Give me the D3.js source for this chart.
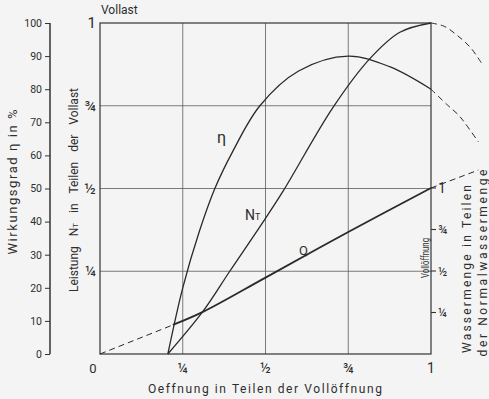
<!DOCTYPE html>
<html>
<head>
<meta charset="utf-8">
<script src="https://cdn.jsdelivr.net/npm/d3@7"></script>
<style>
  body { margin: 0; background: #f4f4f4; }
  svg { display: block; }
  text { font-family: Roboto, "Liberation Sans", sans-serif; fill: #2e2e2e; }
</style>
</head>
<body>
<div id="chart-area"></div>
<script>
// opening (share of full opening) vs efficiency, power and water flow

var fracTicks = [0.25, 0.5, 0.75, 1];
var fracLabels = ["¼", "½", "¾", "1"];
var etaTicks = [0, 10, 20, 30, 40, 50, 60, 70, 80, 90, 100];

// efficiency eta in %
var etaX = [0.205, 0.25, 0.30, 0.347, 0.40, 0.483, 0.6, 0.75, 0.875, 1.0];
var etaY = [0, 20, 37, 50, 61, 75, 85.5, 90, 86.8, 80];
var etaDashX = [1.0, 1.05, 1.083, 1.103, 1.143];
var etaDashY = [80, 75.2, 72.2, 69.7, 64.1];

// power N_T in parts of full load
var ntX = [0.205, 0.312, 0.392, 0.5, 0.555, 0.704, 0.816, 0.906, 1.0];
var ntY = [0, 0.13, 0.25, 0.41, 0.495, 0.745, 0.893, 0.972, 1.0];
var ntDashX = [1.0, 1.04, 1.08, 1.12, 1.153];
var ntDashY = [1.0, 0.99, 0.962, 0.925, 0.878];

// water flow Q in parts of normal flow
var qX = [0.22, 0.3125, 0.5, 0.75, 1.0];
var qY = [0.175, 0.255, 0.46, 0.735, 1.0];
var qDashStartX = [0, 0.22];
var qDashStartY = [0, 0.175];
var qDashEndX = [1.0, 1.143];
var qDashEndY = [1.0, 1.108];

var width = 489;
var height = 399;

var svg = d3.select("#chart-area")
  .append("svg")
  .attr("width", width)
  .attr("height", height);

svg.append("rect").attr("width", width).attr("height", height).attr("fill", "#f4f4f4");

var x = d3.scaleLinear().domain([0, 1]).range([100, 431]);
var y = d3.scaleLinear().domain([0, 1]).range([354, 23]);
var yEta = d3.scaleLinear().domain([0, 100]).range([354, 23]);
var yQ = d3.scaleLinear().domain([0, 1]).range([354, 188]);

// grid
var grid = svg.append("g").attr("stroke", "#5a5a5a").attr("stroke-width", 0.8);
fracTicks.slice(0, 3).forEach(function(t) {
  grid.append("line").attr("x1", x(t)).attr("x2", x(t)).attr("y1", y(1)).attr("y2", y(0));
  grid.append("line").attr("x1", x(0)).attr("x2", x(1)).attr("y1", y(t)).attr("y2", y(t));
});

// frame
svg.append("rect")
  .attr("x", x(0)).attr("y", y(1))
  .attr("width", x(1) - x(0)).attr("height", y(0) - y(1))
  .attr("fill", "none").attr("stroke", "#333").attr("stroke-width", 1.2);

// left eta axis
var etaAxis = svg.append("g")
  .attr("transform", "translate(50,0)")
  .call(d3.axisLeft(yEta).tickValues(etaTicks).tickSize(5).tickPadding(3));
etaAxis.select(".domain").attr("stroke", "#333").attr("stroke-width", 1.5).attr("d", "M0," + yEta(0) + "V" + yEta(100));
etaAxis.selectAll(".tick line").attr("stroke", "#333");
etaAxis.selectAll("text").attr("font-size", 10.5).attr("fill", "#2e2e2e")
  .style("font-family", "Roboto, sans-serif");

// left main labels
svg.selectAll(".ylab")
  .data(fracTicks)
  .enter().append("text")
  .attr("class", "ylab")
  .attr("x", 96)
  .attr("y", function(d) { return y(d) + 5; })
  .attr("text-anchor", "end")
  .attr("font-size", 15)
  .text(function(d, i) { return fracLabels[i]; });

// bottom labels
svg.selectAll(".xlab")
  .data(fracTicks)
  .enter().append("text")
  .attr("class", "xlab")
  .attr("x", function(d) { return x(d); })
  .attr("y", 373)
  .attr("text-anchor", "middle")
  .attr("font-size", 14)
  .text(function(d, i) { return fracLabels[i]; });

svg.append("text").attr("x", 93).attr("y", 373).attr("text-anchor", "middle").attr("font-size", 13).text("0");

svg.append("text")
  .attr("x", 101).attr("y", 14)
  .attr("font-size", 12)
  .text("Vollast");

svg.append("text")
  .attr("x", 148).attr("y", 393)
  .attr("font-size", 12)
  .attr("textLength", 234).attr("lengthAdjust", "spacing")
  .text("Oeffnung in Teilen der Vollöffnung");

// right Q axis
var qAxis = svg.append("g").attr("stroke", "#333").attr("stroke-width", 1.1);
fracTicks.forEach(function(t) {
  qAxis.append("line").attr("x1", x(1)).attr("x2", x(1) + 5).attr("y1", yQ(t)).attr("y2", yQ(t));
});
svg.selectAll(".qlab")
  .data(fracTicks)
  .enter().append("text")
  .attr("class", "qlab")
  .attr("x", 438)
  .attr("y", function(d) { return yQ(d) + 4.5; })
  .attr("font-size", function(d) { return d == 1 ? 14 : 12; })
  .text(function(d, i) { return fracLabels[i]; });

// rotated titles
function vtext(cx, cy, len, size, str, adj) {
  return svg.append("text")
    .attr("transform", "translate(" + cx + "," + cy + ") rotate(-90)")
    .attr("text-anchor", "middle")
    .attr("font-size", size)
    .attr("textLength", len).attr("lengthAdjust", adj || "spacing")
    .text(str);
}

vtext(17, 182, 145, 13, "Wirkungsgrad η in %");

var lt = svg.append("text")
  .attr("transform", "translate(78,190) rotate(-90)")
  .attr("text-anchor", "middle")
  .attr("font-size", 12)
  .attr("word-spacing", 7);
lt.append("tspan").text("Leistung N");
lt.append("tspan").attr("font-size", 8).text("T");
lt.append("tspan").text(" in Teilen der Vollast");

vtext(429, 258, 40, 10, "Vollöffnung", "spacingAndGlyphs");
vtext(471, 269, 168, 12, "Wassermenge in Teilen");
vtext(487, 263, 187, 12, "der Normalwassermenge");

// curves
var line = d3.line().curve(d3.curveCatmullRom.alpha(0.5));

function pts(xs, ys, ys2) {
  return xs.map(function(v, i) { return [x(v), ys2(ys[i])]; });
}

var curves = svg.append("g").attr("fill", "none").attr("stroke", "#2a2a2a");

curves.append("path").attr("d", line(pts(etaX, etaY, yEta))).attr("stroke-width", 1.3);
curves.append("path").attr("d", line(pts(etaDashX, etaDashY, yEta))).attr("stroke-width", 1).attr("stroke-dasharray", "6,4");

curves.append("path").attr("d", line(pts(ntX, ntY, y))).attr("stroke-width", 1.3);
curves.append("path").attr("d", line(pts(ntDashX, ntDashY, y))).attr("stroke-width", 1).attr("stroke-dasharray", "6,4");

curves.append("path").attr("d", line(pts(qX, qY, yQ))).attr("stroke-width", 1.8);
curves.append("path").attr("d", line(pts(qDashStartX, qDashStartY, yQ))).attr("stroke-width", 1).attr("stroke-dasharray", "6,4");
curves.append("path").attr("d", line(pts(qDashEndX, qDashEndY, yQ))).attr("stroke-width", 1).attr("stroke-dasharray", "6,4");

// curve labels
svg.append("text").attr("x", 217).attr("y", 143).attr("font-size", 16).text("η");
var nl = svg.append("text").attr("x", 245).attr("y", 220).attr("font-size", 14);
nl.append("tspan").text("N");
nl.append("tspan").attr("font-size", 9).text("T");
svg.append("text").attr("x", 299).attr("y", 255).attr("font-size", 13).text("Q");
</script>
</body>
</html>
